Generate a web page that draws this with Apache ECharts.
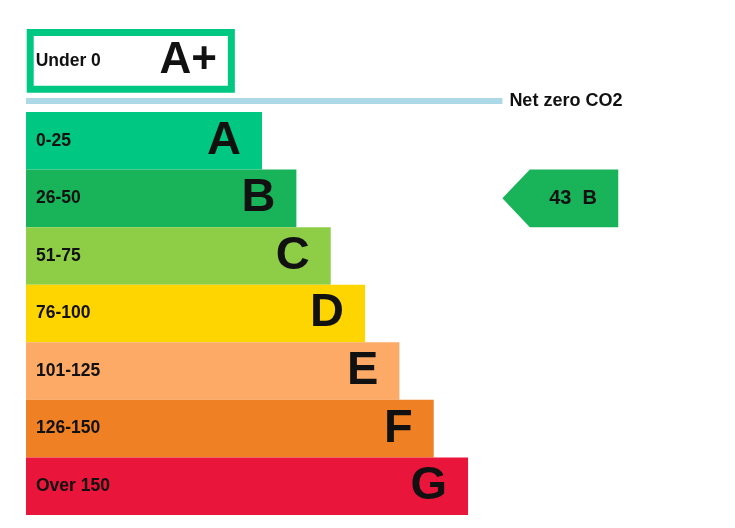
<!DOCTYPE html>
<html>
<head>
<meta charset="utf-8">
<script src="https://cdn.jsdelivr.net/npm/echarts@6/dist/echarts.min.js"></script>
<style>
  html, body { margin: 0; padding: 0; background: #fff; }
  #chart { width: 735px; height: 528px; }
</style>
</head>
<body>
<div id="chart"></div>
<script>
// ---- data ----
const categories = ['A', 'B', 'C', 'D', 'E', 'F', 'G'];
const ranges = ['0-25', '26-50', '51-75', '76-100', '101-125', '126-150', 'Over 150'];
const barLengths = [55, 63, 71, 79, 87, 95, 103];
const bandColors = ['#00c781', '#19b459', '#8dce46', '#ffd500', '#fcaa65', '#ef8023', '#e9153b'];

const topCategory = ['A+'];
const topRange = ['Under 0'];
const topLength = [48.5];

const netZeroLabel = ['Net zero CO2'];
const netZeroLength = [111];

const currentScore = [43];
const currentBand = ['B'];

// ---- style ----
const FONT = '"Liberation Sans", Arial, Helvetica, sans-serif';
const TEXT = '#111111';
const X_MAX = 160;
const PX_PER_UNIT = 4.29167;
const GRID_W = X_MAX * PX_PER_UNIT;
const ARROW_TIP = 111, ARROW_BODY = 117.4, ARROW_END = 138;

const hiddenX = (gi) => ({ type: 'value', gridIndex: gi, min: 0, max: X_MAX, show: false });
const hiddenY = (gi, data) => ({ type: 'category', gridIndex: gi, data: data, inverse: true, show: false });

const chart = echarts.init(document.getElementById('chart'));
chart.setOption({
  animation: false,
  backgroundColor: '#ffffff',
  grid: [
    { left: 26, top: 112, width: GRID_W, height: 403 },
    { left: 26.7, top: 29, width: GRID_W, height: 63.7 },
    { left: 26, top: 98, width: GRID_W, height: 6 }
  ],
  xAxis: [hiddenX(0), hiddenX(1), hiddenX(2)],
  yAxis: [hiddenY(0, categories), hiddenY(1, topCategory), hiddenY(2, netZeroLabel)],
  series: [
    {
      type: 'bar', xAxisIndex: 0, yAxisIndex: 0,
      barWidth: '100%', barGap: '-100%',
      data: barLengths.map((v, i) => ({ value: v, itemStyle: { color: bandColors[i] } })),
      label: {
        show: true, position: 'insideLeft', distance: 10,
        formatter: (p) => ranges[p.dataIndex],
        color: TEXT, fontFamily: FONT, fontWeight: 'bold', fontSize: 17.5
      },
      silent: true
    },
    {
      type: 'bar', xAxisIndex: 0, yAxisIndex: 0,
      barWidth: '100%', barGap: '-100%',
      data: barLengths.slice(),
      itemStyle: { color: 'rgba(0,0,0,0)' },
      label: {
        show: true, position: 'insideRight', distance: 21,
        formatter: (p) => categories[p.dataIndex],
        color: TEXT, fontFamily: FONT, fontWeight: 'bold', fontSize: 47
      },
      silent: true
    },
    {
      type: 'bar', xAxisIndex: 1, yAxisIndex: 1,
      barWidth: '100%', barGap: '-100%',
      data: topLength.slice(),
      itemStyle: { color: '#ffffff', borderColor: bandColors[0], borderWidth: 7 },
      label: {
        show: true, position: 'insideLeft', distance: 9,
        formatter: (p) => topRange[p.dataIndex],
        color: TEXT, fontFamily: FONT, fontWeight: 'bold', fontSize: 17.5
      },
      silent: true
    },
    {
      type: 'bar', xAxisIndex: 1, yAxisIndex: 1,
      barWidth: '100%', barGap: '-100%',
      data: topLength.slice(),
      itemStyle: { color: 'rgba(0,0,0,0)' },
      label: {
        show: true, position: 'insideRight', distance: 18,
        formatter: (p) => topCategory[p.dataIndex],
        color: TEXT, fontFamily: FONT, fontWeight: 'bold', fontSize: 44
      },
      silent: true
    },
    {
      type: 'bar', xAxisIndex: 2, yAxisIndex: 2,
      barWidth: '100%',
      data: netZeroLength.slice(),
      itemStyle: { color: '#add8e6' },
      label: {
        show: true, position: 'right', distance: 7,
        formatter: (p) => netZeroLabel[p.dataIndex],
        color: TEXT, fontFamily: FONT, fontWeight: 'bold', fontSize: 18
      },
      silent: true
    },
    {
      type: 'custom', xAxisIndex: 0, yAxisIndex: 0,
      clip: false,
      encode: { x: 0, y: 1 },
      data: currentScore.map((s, i) => [s, categories.indexOf(currentBand[i]), currentBand[i]]),
      renderItem: function (params, api) {
        const idx = api.value(1);
        const tip = api.coord([ARROW_TIP, idx]);
        const body = api.coord([ARROW_BODY, idx]);
        const end = api.coord([ARROW_END, idx]);
        const h = api.size([0, 1])[1];
        const cy = tip[1];
        const color = bandColors[idx];
        return {
          type: 'group',
          children: [
            {
              type: 'polygon',
              shape: { points: [[tip[0], cy], [body[0], cy - h / 2], [end[0], cy - h / 2], [end[0], cy + h / 2], [body[0], cy + h / 2]] },
              style: { fill: color }
            },
            {
              type: 'text',
              style: {
                text: api.value(0) + '  ' + currentBand[params.dataIndex],
                x: (body[0] + end[0]) / 2 - 1, y: cy,
                align: 'center', verticalAlign: 'middle',
                fill: TEXT, fontFamily: FONT, fontWeight: 'bold', fontSize: 20
              }
            }
          ]
        };
      },
      silent: true
    }
  ]
});
</script>
</body>
</html>
